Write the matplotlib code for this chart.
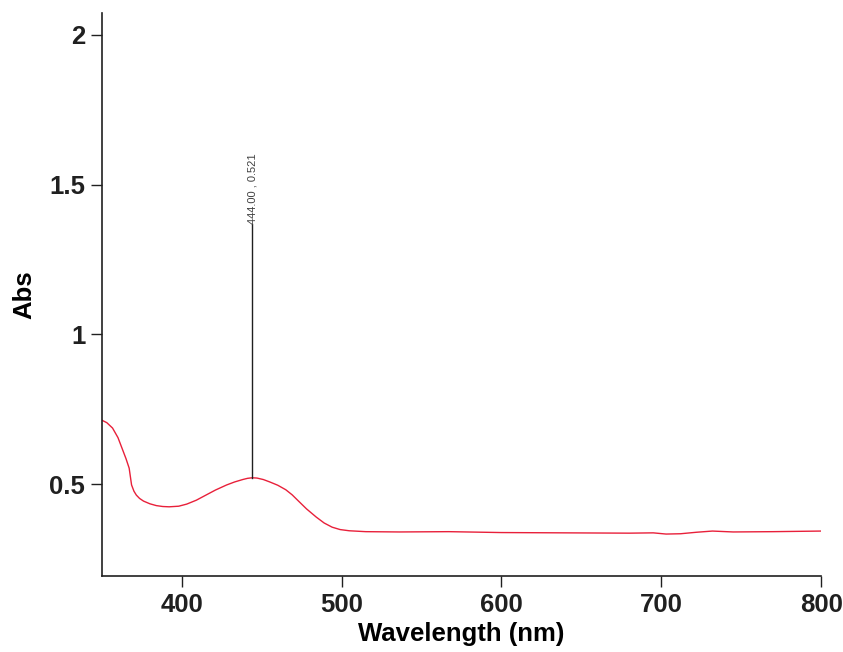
import matplotlib
matplotlib.use("Agg")
import matplotlib.pyplot as plt
from matplotlib.ticker import FuncFormatter

# spectrum (nm, absorbance)
wavelength = [350, 353, 356.6, 360, 363, 365, 367, 368.5, 370, 371.5, 373.5, 376, 380, 384,
              388, 392, 398, 403, 409, 415, 421, 428, 433, 438, 441, 444, 447, 451,
              455, 460, 465, 469, 473, 478, 484, 489, 494, 499, 504.7, 515, 536, 567,
              600, 640, 680, 695, 703, 712, 722, 732, 745, 770, 800]
absorbance = [0.713, 0.705, 0.687, 0.655, 0.613, 0.585, 0.553, 0.497, 0.476, 0.463, 0.452,
              0.443, 0.434, 0.428, 0.425, 0.424, 0.426, 0.433, 0.446, 0.463, 0.480, 0.497,
              0.507, 0.515, 0.519, 0.521, 0.520, 0.515, 0.507, 0.496, 0.481, 0.464, 0.443,
              0.417, 0.390, 0.370, 0.356, 0.348, 0.344, 0.341, 0.340, 0.341, 0.338, 0.337,
              0.336, 0.337, 0.333, 0.334, 0.339, 0.343, 0.340, 0.341, 0.343]

peak_x = 444.00
peak_y = 0.521
marker_top = 1.37

plt.rcParams['font.family'] = ['Liberation Sans', 'DejaVu Sans']

fig = plt.figure(figsize=(8.43, 6.52), dpi=100)
ax = fig.add_axes([0.121, 0.1166, 0.853, 0.8634])

ax.plot(wavelength, absorbance, color="#e8203a", linewidth=1.0)
ax.plot([peak_x, peak_x], [peak_y, marker_top], color="#202020", linewidth=1.0)
ax.text(peak_x, marker_top, f"{peak_x:.2f} , {peak_y:.3f}", rotation=90,
        ha="center", va="bottom", fontsize=8, color="#404040")

ax.set_xlim(350, 800)
ax.set_ylim(0.193, 2.073)
ax.set_xticks([400, 500, 600, 700, 800])
ax.set_yticks([0.5, 1, 1.5, 2])
ax.yaxis.set_major_formatter(FuncFormatter(lambda v, p: f"{v:g}"))

for side in ("top", "right"):
    ax.spines[side].set_visible(False)
for side in ("left", "bottom"):
    ax.spines[side].set_color("#202020")
    ax.spines[side].set_linewidth(1.2)

ax.tick_params(direction="out", length=8, width=1.0, colors="#202020",
               labelsize=18.5, pad=4)
for lbl in ax.get_xticklabels() + ax.get_yticklabels():
    lbl.set_fontweight("bold")

ax.set_xlabel("Wavelength (nm)", fontsize=18.5, fontweight="bold", labelpad=4)
ax.set_ylabel("Abs", fontsize=18.5, fontweight="bold", labelpad=9)

fig.savefig("out.png", dpi=100, facecolor="white")
plt.close(fig)
